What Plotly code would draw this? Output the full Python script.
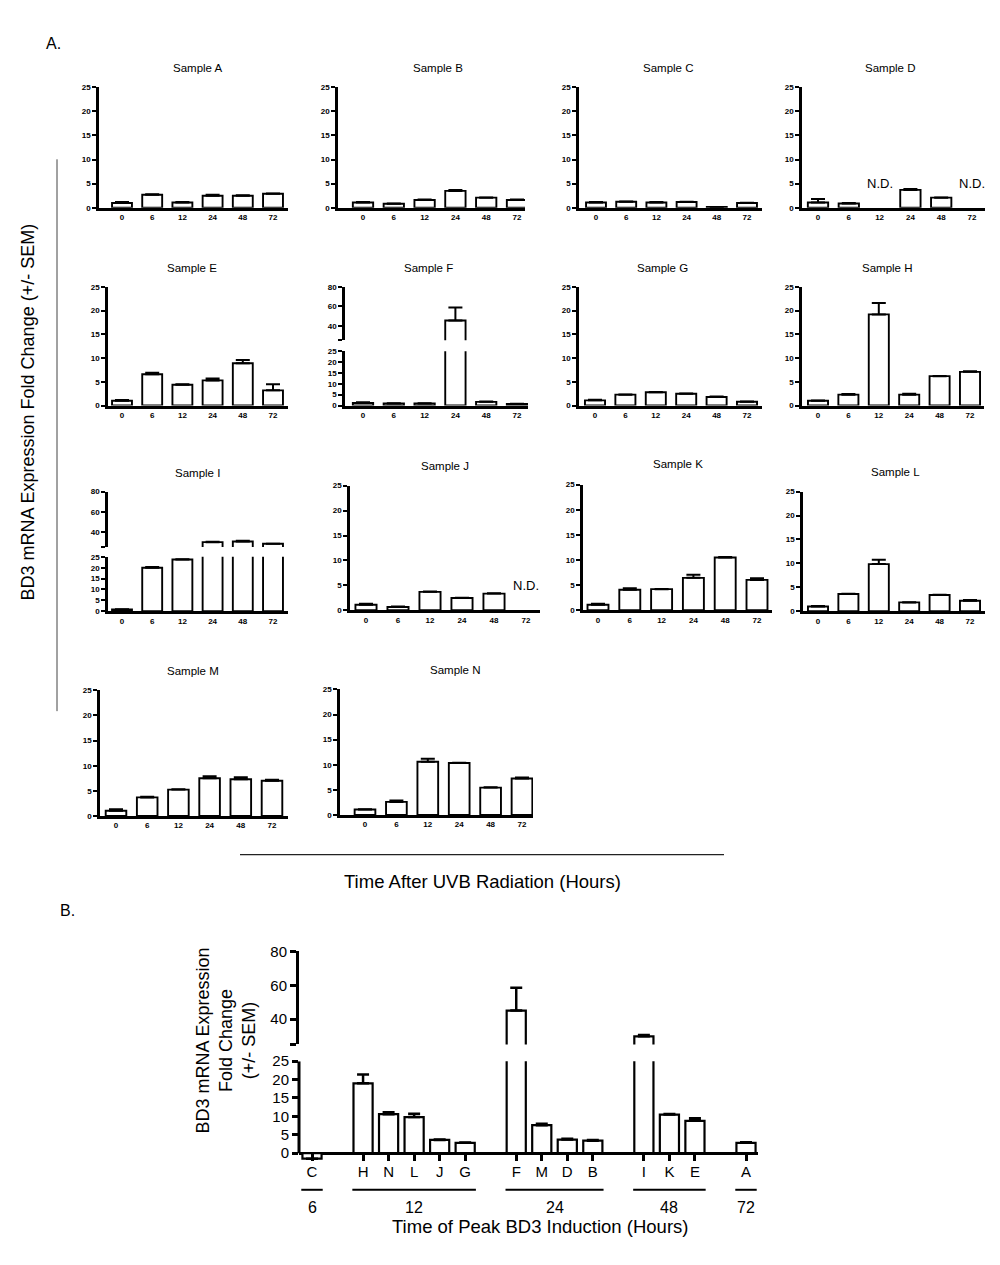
import plotly.graph_objects as go

W, H = 1000, 1265
FONT = "Liberation Sans"

# ---------------- data ----------------
times = ["0", "6", "12", "24", "48", "72"]

val_A = [1.0, 2.7, 1.1, 2.5, 2.5, 2.9]
err_A = [0.2, 0.1, 0.1, 0.2, 0.1, 0.05]
val_B = [1.1, 0.85, 1.6, 3.5, 2.1, 1.6]
err_B = [0.1, 0.05, 0.1, 0.2, 0.05, 0.1]
val_C = [1.1, 1.25, 1.1, 1.2, 0.15, 1.0]
err_C = [0.1, 0.05, 0.1, 0.05, 0.02, 0.05]
val_D = [1.1, 0.9, None, 3.7, 2.1, None]
err_D = [0.7, 0.1, 0, 0.2, 0.05, 0]
val_E = [1.0, 6.6, 4.4, 5.3, 8.9, 3.2]
err_E = [0.15, 0.3, 0.1, 0.4, 0.7, 1.3]
val_F = [1.2, 1.0, 1.0, 45.4, 1.7, 0.7]
err_F = [0.3, 0.1, 0.1, 13.4, 0.2, 0.1]
val_G = [1.1, 2.3, 2.8, 2.5, 1.8, 0.8]
err_G = [0.15, 0.05, 0.05, 0.05, 0.1, 0.05]
val_H = [1.0, 2.3, 19.2, 2.3, 6.2, 7.1]
err_H = [0.05, 0.15, 2.4, 0.2, 0.05, 0.15]
val_I = [0.8, 20.0, 23.8, 29.8, 30.5, 28.2]
err_I = [0.1, 0.4, 0.1, 0.5, 0.6, 0.1]
val_J = [1.1, 0.65, 3.7, 2.45, 3.35, None]
err_J = [0.2, 0.1, 0.05, 0.05, 0.05, 0]
val_K = [1.1, 4.1, 4.2, 6.45, 10.5, 6.05]
err_K = [0.2, 0.3, 0.05, 0.6, 0.1, 0.3]
val_L = [1.0, 3.6, 9.85, 1.85, 3.4, 2.2]
err_L = [0.1, 0.05, 0.9, 0.05, 0.05, 0.15]
val_M = [1.05, 3.7, 5.25, 7.5, 7.3, 7.0]
err_M = [0.3, 0.1, 0.05, 0.4, 0.4, 0.2]
val_N = [1.1, 2.6, 10.6, 10.35, 5.45, 7.25]
err_N = [0.05, 0.3, 0.6, 0.05, 0.05, 0.2]

samples = {
    "A": (val_A, err_A), "B": (val_B, err_B), "C": (val_C, err_C), "D": (val_D, err_D),
    "E": (val_E, err_E), "F": (val_F, err_F), "G": (val_G, err_G), "H": (val_H, err_H),
    "I": (val_I, err_I), "J": (val_J, err_J), "K": (val_K, err_K), "L": (val_L, err_L),
    "M": (val_M, err_M), "N": (val_N, err_N),
}
broken_samples = ["F", "I"]

# Part B: peak time groups
peak_groups = ["6", "12", "24", "48", "72"]
peak_members = [["C"], ["H", "N", "L", "J", "G"], ["F", "M", "D", "B"], ["I", "K", "E"], ["A"]]
peak_vals = {"C": -1.5, "H": 19.0, "N": 10.6, "L": 9.8, "J": 3.6, "G": 2.8,
             "F": 45.0, "M": 7.6, "D": 3.7, "B": 3.4, "I": 29.8, "K": 10.5, "E": 8.8, "A": 2.8}
peak_errs = {"C": 0, "H": 2.4, "N": 0.5, "L": 0.9, "J": 0.1, "G": 0.1,
             "F": 13.5, "M": 0.4, "D": 0.2, "B": 0.2, "I": 0.8, "K": 0.15, "E": 0.7, "A": 0.15}

# ---------------- layout geometry (pixels) ----------------
# normal: (yaxis_x, axis_end, first_bar, last_bar, top, bottom, title_x, title_y)
geo = {
    "A": (99, 288, 122, 273, 79, 201, 198, 60),
    "B": (338, 525, 363, 517, 79, 201, 438, 60),
    "C": (579, 762, 596, 747, 79, 201, 668, 60),
    "D": (802, 985, 818, 972, 79, 201, 890, 60),
    "E": (108, 288, 122, 273, 281, 401, 192, 262),
    "G": (579, 762, 595, 747, 281, 401, 662, 262),
    "H": (802, 984, 818, 970, 281, 401, 887, 262),
    "J": (350, 540, 366, 526, 482, 608, 445, 462),
    "K": (583, 772, 598, 757, 481, 608, 678, 460),
    "L": (803, 985, 818, 970, 488, 609, 895, 468),
    "M": (100, 288, 116, 272, 689, 816, 193, 669),
    "N": (340, 533, 365, 522, 688, 815, 455, 668),
}
# broken: (yaxis_x, axis_end, first_bar, last_bar, up_top, up_bot, lo_top, lo_bot, title_x, title_y)
geo_broken = {
    "F": (345, 528, 363, 517, 281, 335, 346, 401, 428, 262),
    "I": (108, 288, 122, 273, 488, 544, 554, 609, 197, 469),
}
nd_marks = {"D": [2, 5], "J": [5]}

fig = go.Figure()
layout = {}
annotations = []
shapes = []

def px_x(p):
    return p / W

def px_y(p):
    return 1 - p / H

BAR_LINE = 1.9
AX_W = 2.6
TICKFONT = dict(family=FONT, size=8, color="black", weight="bold")

def bar_trace(xs, ys, es, xa, ya, width, lw, capw, thick):
    return go.Bar(
        x=xs, y=ys, width=width, xaxis=xa, yaxis=ya,
        marker=dict(color="white", line=dict(color="black", width=lw)),
        error_y=dict(type="data", array=es, arrayminus=[0] * len(es), symmetric=False,
                     color="black", thickness=thick, width=capw),
        showlegend=False, hoverinfo="skip",
    )

ax_i = 0
yax_i = 0
positions = list(range(len(times)))

for name in "ABCDEFGHIJKLMN":
    vals, errs = samples[name]
    ax_i += 1
    xname = "xaxis" if ax_i == 1 else f"xaxis{ax_i}"
    xref = "x" if ax_i == 1 else f"x{ax_i}"
    if name in broken_samples:
        yx, xe, b0, b5, ut, ub, lt, lb, tx, ty = geo_broken[name]
    else:
        yx, xe, b0, b5, top, bot, tx, ty = geo[name]
        lt, lb = top, bot
    slot = (b5 - b0) / (len(times) - 1)
    xr = [(yx - b0) / slot, (xe - b0) / slot]

    yax_i += 1
    yname = "yaxis" if yax_i == 1 else f"yaxis{yax_i}"
    yref = "y" if yax_i == 1 else f"y{yax_i}"

    layout[xname] = dict(domain=[px_x(yx), px_x(xe)], range=xr, anchor=yref,
                         showline=True, linecolor="black", linewidth=AX_W,
                         ticks="", tickvals=positions, ticktext=times,
                         tickfont=TICKFONT, showgrid=False, zeroline=False,
                         fixedrange=True)
    layout[yname] = dict(domain=[px_y(lb), px_y(lt)], range=[0, 25], anchor=xref,
                         showline=True, linecolor="black", linewidth=AX_W,
                         ticks="outside", ticklen=4, tickwidth=2, tickcolor="black",
                         tickvals=[0, 5, 10, 15, 20, 25], tickfont=TICKFONT,
                         showgrid=False, zeroline=False, fixedrange=True)
    fig.add_trace(bar_trace(positions, vals, errs, xref, yref, 0.66, BAR_LINE, 7, 2))

    if name in broken_samples:
        yax_i += 1
        yname2 = f"yaxis{yax_i}"
        yref2 = f"y{yax_i}"
        layout[yname2] = dict(domain=[px_y(ub), px_y(ut)], range=[25, 80], anchor=xref,
                              showline=True, linecolor="black", linewidth=AX_W,
                              ticks="outside", ticklen=4, tickwidth=2, tickcolor="black",
                              tickvals=[25, 40, 60, 80], ticktext=["", "40", "60", "80"],
                              tickfont=TICKFONT, showgrid=False, zeroline=False,
                              fixedrange=True)
        fig.add_trace(bar_trace(positions, vals, errs, xref, yref2, 0.66, BAR_LINE, 7, 2))

    annotations.append(dict(text=f"Sample {name}", x=px_x(tx), y=px_y(ty), xref="paper",
                            yref="paper", showarrow=False, xanchor="center", yanchor="middle",
                            font=dict(family=FONT, size=11.5, color="black")))
    for idx in nd_marks.get(name, []):
        annotations.append(dict(text="N.D.", x=positions[idx], y=3.0, xref=xref, yref=yref,
                                showarrow=False, xanchor="center", yanchor="bottom",
                                font=dict(family=FONT, size=13, color="black")))

# ---------------- Part B ----------------
letters = []
pos_b = []
group_spans = []
p = 0
for gi, mem in enumerate(peak_members):
    start = p
    for m in mem:
        letters.append(m)
        pos_b.append(p)
        p += 1
    group_spans.append((start, p - 1))
    p += 1  # gap between groups
vals_b = [peak_vals[m] for m in letters]
errs_b = [peak_errs[m] for m in letters]

ax_i += 1
xnameB = f"xaxis{ax_i}"
xrefB = f"x{ax_i}"
yax_i += 1
ynameB = f"yaxis{yax_i}"
yrefB = f"y{yax_i}"
yax_i += 1
ynameB2 = f"yaxis{yax_i}"
yrefB2 = f"y{yax_i}"

bx0, bx_end, bfirst, blast = 299, 758, 312, 746
slotB = (blast - bfirst) / (pos_b[-1] - pos_b[0])
xrB = [(bx0 - bfirst) / slotB, (bx_end - bfirst) / slotB]
lo_top, zero_px, lo_bot = 1064, 1157, 1164.4
up_top, up_bot = 953, 1047
TFB = dict(family=FONT, size=15, color="black")

layout[xnameB] = dict(domain=[px_x(bx0), px_x(bx_end)], range=xrB, anchor=yrefB,
                      showline=False, ticks="inside", ticklen=7, tickwidth=2.5,
                      tickcolor="black", tickvals=pos_b, ticktext=letters, tickfont=TFB,
                      showgrid=False, zeroline=False, fixedrange=True)
layout[ynameB] = dict(domain=[px_y(lo_bot), px_y(lo_top)], range=[-2.0, 25], anchor=xrefB,
                      showline=False, ticks="outside", ticklen=6, tickwidth=2.5,
                      tickcolor="black", tickvals=[0, 5, 10, 15, 20, 25], tickfont=TFB,
                      showgrid=False, zeroline=True, zerolinecolor="black", zerolinewidth=3,
                      fixedrange=True)
layout[ynameB2] = dict(domain=[px_y(up_bot), px_y(up_top)], range=[25, 80], anchor=xrefB,
                       showline=True, linecolor="black", linewidth=3,
                       ticks="outside", ticklen=6, tickwidth=2.5, tickcolor="black",
                       tickvals=[25, 40, 60, 80], ticktext=["", "40", "60", "80"],
                       tickfont=TFB, showgrid=False, zeroline=False, fixedrange=True)
fig.add_trace(bar_trace(pos_b, vals_b, errs_b, xrefB, yrefB, 0.75, 2.2, 6, 2.5))
fig.add_trace(bar_trace(pos_b, vals_b, errs_b, xrefB, yrefB2, 0.75, 2.2, 6, 2.5))

# lower y-axis line from 0 to 25
shapes.append(dict(type="line", xref=f"{xrefB} domain", yref=yrefB, x0=0, x1=0, y0=0, y1=25,
                   line=dict(color="black", width=3)))

# group underlines and labels
for (s, e), gname in zip(group_spans, peak_groups):
    shapes.append(dict(type="line", xref=xrefB, yref="paper", x0=s - 0.42, x1=e + 0.42,
                       y0=px_y(1194), y1=px_y(1194), line=dict(color="black", width=2)))
    annotations.append(dict(text=gname, x=(s + e) / 2, y=px_y(1212), xref=xrefB, yref="paper",
                            showarrow=False, xanchor="center", yanchor="middle",
                            font=dict(family=FONT, size=16, color="black")))

annotations.append(dict(text="Time of Peak BD3 Induction (Hours)", x=px_x(540), y=px_y(1231),
                        xref="paper", yref="paper", showarrow=False, xanchor="center",
                        yanchor="middle", font=dict(family=FONT, size=18.5, color="black")))
annotations.append(dict(text="BD3 mRNA Expression<br>Fold Change<br>(+/- SEM)",
                        x=px_x(226), y=px_y(1043), xref="paper", yref="paper", showarrow=False,
                        textangle=-90, xanchor="center", yanchor="middle",
                        font=dict(family=FONT, size=18, color="black")))

# ---------------- Part A decorations ----------------
annotations.append(dict(text="BD3 mRNA Expression Fold Change (+/- SEM)", x=px_x(28),
                        y=px_y(408), xref="paper", yref="paper", showarrow=False,
                        textangle=-90, xanchor="center", yanchor="middle",
                        font=dict(family=FONT, size=18, color="black")))
annotations.append(dict(text="Time After UVB Radiation (Hours)", x=px_x(482), y=px_y(882),
                        xref="paper", yref="paper", showarrow=False, xanchor="center",
                        yanchor="middle", font=dict(family=FONT, size=18.5, color="black")))
annotations.append(dict(text="A.", x=px_x(44), y=px_y(35), xref="paper", yref="paper",
                        showarrow=False, xanchor="left", yanchor="middle",
                        font=dict(family=FONT, size=16, color="black")))
annotations.append(dict(text="B.", x=px_x(58), y=px_y(912), xref="paper", yref="paper",
                        showarrow=False, xanchor="left", yanchor="middle",
                        font=dict(family=FONT, size=16, color="black")))
shapes.append(dict(type="line", xref="paper", yref="paper", x0=px_x(57), x1=px_x(57),
                   y0=px_y(152), y1=px_y(710), line=dict(color="#444444", width=1)))
shapes.append(dict(type="line", xref="paper", yref="paper", x0=px_x(240), x1=px_x(724),
                   y0=px_y(855), y1=px_y(855), line=dict(color="#222222", width=1.2)))

fig.update_layout(width=W, height=H, margin=dict(l=0, r=0, t=0, b=0),
                  paper_bgcolor="white", plot_bgcolor="white",
                  annotations=annotations, shapes=shapes, barmode="overlay",
                  showlegend=False, **layout)

fig.write_html("out.html", config={"displayModeBar": False},
               post_script="document.body.style.margin='0';document.body.style.padding='0';")
